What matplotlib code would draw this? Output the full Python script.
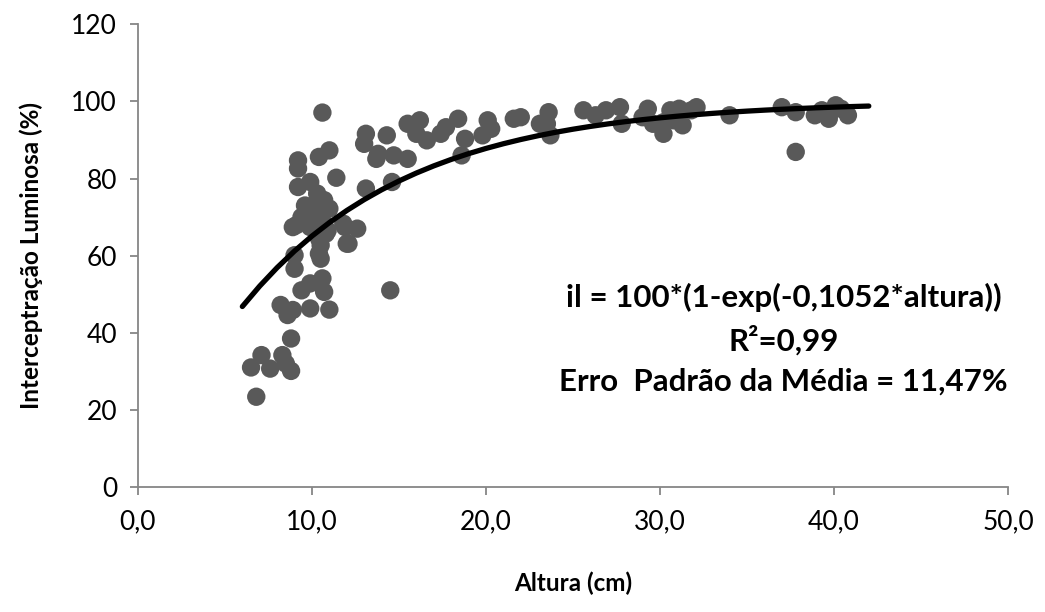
import matplotlib.pyplot as plt
import numpy as np

# ============================================
# DATA
# ============================================

# Altura (cm) e interceptação luminosa (%)
altura = [
    6.5, 6.8, 7.1, 7.6, 8.3, 8.5, 8.8,
    8.8, 8.2, 8.6, 8.9, 9.9, 11.0, 10.7, 10.6, 9.9, 9.4,
    9.0, 9.0, 10.5, 10.5, 10.8, 12.0, 11.9, 8.9, 9.9, 10.4, 12.6,
    10.6, 9.2, 9.2, 10.4, 11.0, 11.4, 9.2, 9.9, 10.3, 10.7, 11.0,
    9.4, 10.1, 9.1, 11.8,
    13.1, 13.0, 14.3, 13.8, 13.7, 14.7, 15.5, 15.5, 16.2, 16.0, 16.6,
    17.4, 17.7, 18.4, 18.8, 18.6, 19.8, 20.1, 14.6, 13.1, 12.1, 14.5,
    20.3, 21.6, 22.0, 23.6, 23.1, 23.7, 23.5, 25.6, 26.3, 26.9, 27.7, 27.8,
    29.0, 29.3, 29.6, 30.2, 30.6, 30.8, 31.3, 31.1, 32.1, 31.8, 34.0, 30.2,
    37.0, 37.8, 37.8, 38.9, 39.7, 40.1, 39.7, 40.4, 40.8, 39.3,
    10.2, 10.6, 10.9, 9.6, 10.4,
]
interceptacao = [
    31.0, 23.4, 34.2, 30.7, 34.2, 32.0, 30.1,
    38.5, 47.2, 44.6, 45.9, 46.3, 46.0, 50.6, 54.1, 52.8, 51.0,
    56.6, 60.1, 59.2, 62.7, 65.7, 63.1, 67.4, 67.4, 67.4, 60.5, 67.0,
    97.1, 84.7, 82.6, 85.6, 87.3, 80.2, 77.8, 79.1, 76.1, 74.4, 72.2,
    70.0, 70.9, 67.9, 68.3,
    91.6, 89.0, 91.2, 86.4, 85.1, 86.0, 85.1, 94.2, 95.1, 91.6, 89.9,
    91.6, 93.3, 95.5, 90.3, 86.0, 91.2, 95.1, 79.1, 77.4, 63.1, 51.0,
    92.9, 95.5, 95.9, 97.2, 94.2, 91.2, 94.2, 97.7, 96.4, 97.7, 98.5, 94.2,
    95.9, 98.1, 94.2, 91.6, 97.7, 95.1, 93.8, 98.1, 98.5, 97.7, 96.4, 94.6,
    98.5, 97.2, 86.9, 96.4, 96.4, 99.0, 95.5, 98.1, 96.4, 97.7,
    73.5, 69.0, 66.5, 73.0, 64.5,
]

# Modelo ajustado: il = 100*(1-exp(-0,1052*altura))
coef_k = 0.1052
altura_curva = np.arange(6, 43, 1.0)
il_curva = 100 * (1 - np.exp(-coef_k * altura_curva))

x_ticks = [0, 10, 20, 30, 40, 50]
x_tick_labels = ['0,0', '10,0', '20,0', '30,0', '40,0', '50,0']
y_ticks = [0, 20, 40, 60, 80, 100, 120]

# ============================================
# PLOTTING
# ============================================

plt.rcParams['font.family'] = ['Lato', 'DejaVu Sans']

fig = plt.figure(figsize=(10.45, 6.12), dpi=100)
ax = fig.add_axes([0.132, 0.2043, 0.8326, 0.756])

ax.scatter(altura, interceptacao, s=175, color='#595959', edgecolors='none', zorder=2)
ax.plot(altura_curva, il_curva, color='black', linewidth=3.8, zorder=3,
        solid_capstyle='round')

ax.set_xlim(0, 50)
ax.set_ylim(0, 120)
ax.set_xticks(x_ticks)
ax.set_xticklabels(x_tick_labels)
ax.set_yticks(y_ticks)

for side in ['top', 'right']:
    ax.spines[side].set_visible(False)
for side in ['left', 'bottom']:
    ax.spines[side].set_color('#868686')
    ax.spines[side].set_linewidth(1.3)

ax.tick_params(axis='both', direction='out', length=6, width=1.3, color='#868686',
               labelsize=19)
ax.tick_params(axis='x', pad=10)
ax.tick_params(axis='y', pad=9)

ax.set_xlabel('Altura (cm)', fontsize=17.5, fontweight='bold', labelpad=27)
ax.set_ylabel('Interceptração Luminosa (%)', fontsize=17.5, fontweight='bold', labelpad=20)

ax.text(37.1, 49.2, 'il = 100*(1-exp(-0,1052*altura))', ha='center', va='center',
        fontsize=22.5, fontweight='bold')
ax.text(37.1, 38.0, 'R²=0,99', ha='center', va='center', fontsize=22.5, fontweight='bold')
ax.text(37.1, 27.4, 'Erro  Padrão da Média = 11,47%', ha='center', va='center',
        fontsize=22.5, fontweight='bold')

plt.savefig('out.png', dpi=100, facecolor='white')
plt.close()
